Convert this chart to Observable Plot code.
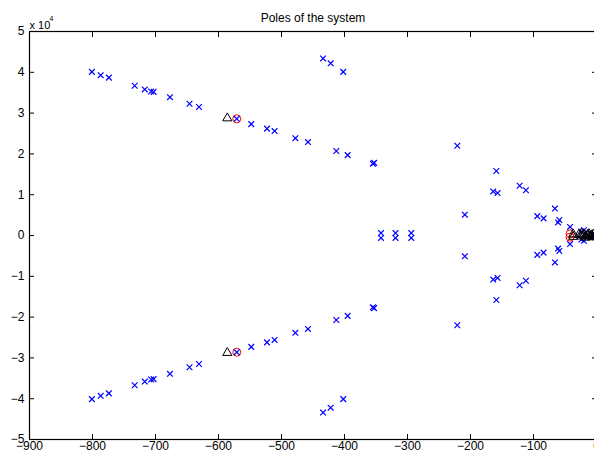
<!DOCTYPE html>
<html><head><meta charset="utf-8">
<script src="https://cdn.jsdelivr.net/npm/d3@7"></script>
<script src="https://cdn.jsdelivr.net/npm/@observablehq/plot@0.6"></script>
<style>body{margin:0;background:#fff}</style>
</head><body><div id="chart"></div>
<script>
// Poles (blue ×): real part, imaginary part
const poleRe = [
  -801,-787,-774,-733,-717,-707,-703,-677,-646,-631,
  -571,-548,-523,-511,-478,-434,-422,-402,-458,-413,
  -395,-355,-353,-221,-159,-164,-157,-122,-112,-209,
  -94,-84,-342,-319,-294,-66,-61,-59,-42,-24,-20,-10,-5,
  -801,-787,-774,-733,-717,-707,-703,-677,-646,-631,
  -571,-548,-523,-511,-478,-434,-422,-402,-458,-413,
  -395,-355,-353,-221,-159,-164,-157,-122,-112,-209,
  -94,-84,-342,-319,-294,-66,-61,-59,-42,-24,-20,-10,-5
];
const poleIm = [
  40100,39300,38700,36700,35800,35300,35200,33900,32300,31500,
  28600,27300,26200,25600,23850,43400,42200,40100,22900,20700,
  19700,17600,17800,22000,15800,10800,10400,12200,11100,5100,
  4750,4200,600,600,600,6600,3200,3800,2100,1000,1300,500,300,
  -40100,-39300,-38700,-36700,-35800,-35300,-35200,-33900,-32300,-31500,
  -28600,-27300,-26200,-25600,-23850,-43400,-42200,-40100,-22900,-20700,
  -19700,-17600,-17800,-22000,-15800,-10800,-10400,-12200,-11100,-5100,
  -4750,-4200,-600,-600,-600,-6600,-3200,-3800,-2100,-1000,-1300,-500,-300
];
// Red circles
const circleRe = [-571, -571, -42, -42];
const circleIm = [28600, -28600, 400, -400];
// Black triangles
const triRe = [-586, -586, -37, -37, -28, -24, -20, -17, -14, -11, -8, -5, -3, -24, -18, -12, -6];
const triIm = [28750, -28750, 300, -300, 200, -200, 300, -100, 200, -200, 100, 300, -200, 500, -500, 400, -400];

const xTicks = [-900, -800, -700, -600, -500, -400, -300, -200, -100, 0];
const yTicks = [-50000, -40000, -30000, -20000, -10000, 0, 10000, 20000, 30000, 40000, 50000];
const yTickLabels = ["−5", "−4", "−3", "−2", "−1", "0", "1", "2", "3", "4", "5"];
const xTickLabels = ["−900", "−800", "−700", "−600", "−500", "−400", "−300", "−200", "−100", "0"];
const titleText = "Poles of the system";
const exponentBase = "x 10";
const exponent = "4";

const poles = poleRe.map((re, i) => ({re, im: poleIm[i]}));
const circles = circleRe.map((re, i) => ({re, im: circleIm[i]}));
const tris = triRe.map((re, i) => ({re, im: triIm[i]}));

const chart = Plot.plot({
  width: 594,
  height: 454,
  marginLeft: 29,
  marginRight: -2,
  marginTop: 31,
  marginBottom: 15,
  style: {fontFamily: "'Liberation Sans', Arial, Helvetica, sans-serif", fontSize: "12px", background: "white", color: "black"},
  x: {domain: [-900, 0], label: null},
  y: {domain: [-50000, 50000], label: null},
  marks: [
    Plot.frame({stroke: "black", strokeWidth: 1.2}),
    Plot.axisX(xTicks, {anchor: "bottom", tickSize: -5, text: null, label: null}),
    Plot.axisX(xTicks, {anchor: "top", tickSize: -5, text: null, label: null}),
    Plot.axisY(yTicks, {anchor: "left", tickSize: -5, text: null, label: null}),
    Plot.axisY(yTicks, {anchor: "right", tickSize: -5, text: null, label: null}),
    Plot.axisX(xTicks, {anchor: "bottom", tickSize: 0, tickPadding: 2, label: null, fontSize: 12,
      tickFormat: d => xTickLabels[xTicks.indexOf(d)]}),
    Plot.axisY(yTicks, {anchor: "left", tickSize: 0, tickPadding: 5, label: null, fontSize: 12,
      tickFormat: d => yTickLabels[yTicks.indexOf(d)]}),
    Plot.dot(circles, {x: "re", y: "im", symbol: "circle", r: 4, stroke: "#ff0000", strokeWidth: 1, fill: "none"}),
    Plot.dot(poles, {x: "re", y: "im", symbol: "times", r: 2.7, stroke: "#0000ff", strokeWidth: 1.2}),
    Plot.dot(tris, {x: "re", y: "im", symbol: "triangle", r: 3.4, stroke: "black", strokeWidth: 1, fill: "none"}),
    Plot.text([titleText], {frameAnchor: "top", dy: -18, fontSize: 12}),
    Plot.text([exponentBase], {frameAnchor: "top-left", dy: -10, textAnchor: "start", fontSize: 11}),
    Plot.text([exponent], {frameAnchor: "top-left", dx: 20, dy: -15, textAnchor: "start", fontSize: 7})
  ]
});
document.getElementById("chart").appendChild(chart);
</script>
</body></html>
